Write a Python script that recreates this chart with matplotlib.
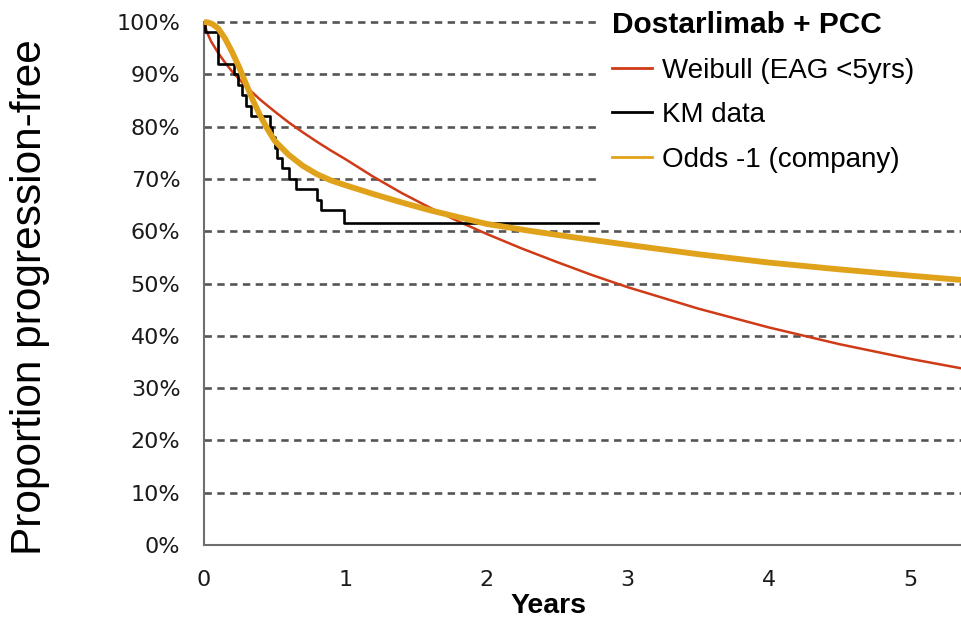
import matplotlib
matplotlib.use("Agg")
import matplotlib.pyplot as plt
from matplotlib.lines import Line2D
from matplotlib.patches import Rectangle

# Weibull (EAG <5yrs) curve
weibull_t = [0.0, 0.02, 0.05, 0.1, 0.15, 0.2, 0.3, 0.4, 0.5, 0.6, 0.7, 0.8, 0.9,
             1.0, 1.2, 1.4, 1.6, 1.8, 2.0, 2.25, 2.5, 2.75, 3.0, 3.5, 4.0, 4.5,
             5.0, 5.4]
weibull_s = [1.0, 0.981, 0.963, 0.941, 0.922, 0.905, 0.876, 0.851, 0.829, 0.808,
             0.789, 0.771, 0.754, 0.738, 0.704, 0.673, 0.645, 0.619, 0.595, 0.567,
             0.541, 0.516, 0.493, 0.452, 0.416, 0.384, 0.356, 0.336]

# KM data (step function)
km_t = [0.0, 0.01, 0.10, 0.215, 0.24, 0.27, 0.30, 0.335, 0.47, 0.485, 0.50, 0.515,
        0.555, 0.60, 0.65, 0.80, 0.83, 0.99, 2.79]
km_s = [1.0, 0.98, 0.92, 0.90, 0.88, 0.86, 0.84, 0.82, 0.80, 0.78, 0.76, 0.74,
        0.72, 0.70, 0.68, 0.66, 0.64, 0.615, 0.615]

# Odds -1 (company) curve
odds_t = [0.0, 0.03, 0.06, 0.1, 0.15, 0.2, 0.25, 0.3, 0.35, 0.4, 0.45, 0.5, 0.6,
          0.7, 0.8, 0.9, 1.0, 1.2, 1.4, 1.6, 1.8, 2.0, 2.3, 2.6, 3.0, 3.5, 4.0,
          4.5, 5.0, 5.4]
odds_s = [1.0, 0.999, 0.996, 0.988, 0.968, 0.942, 0.913, 0.880, 0.848, 0.820,
          0.795, 0.773, 0.746, 0.725, 0.709, 0.697, 0.688, 0.671, 0.655, 0.640,
          0.627, 0.614, 0.601, 0.589, 0.574, 0.556, 0.540, 0.527, 0.515, 0.506]

series_labels = ["Weibull (EAG <5yrs)", "KM data", "Odds -1 (company)"]
legend_title = "Dostarlimab + PCC"
x_ticks = [0, 1, 2, 3, 4, 5]
y_ticks = [i / 10 for i in range(11)]

RED = "#cf3b17"
ORANGE = "#e0a11b"
GRID = "#555555"

fig = plt.figure(figsize=(9.61, 6.21), dpi=100)
ax = fig.add_axes([204 / 961, 76 / 621, 757 / 961, 523 / 621])

for v in y_ticks[1:]:
    ax.axhline(v, color=GRID, lw=1.9, ls=(0, (2.8, 2.05)), zorder=1, clip_on=False)

# white legend background hides the upper grid lines on the right
ax.add_patch(Rectangle((597 / 961, 1 - 195 / 621), 1, 1, transform=fig.transFigure,
                       facecolor="white", edgecolor="none", zorder=2, clip_on=False))

ax.plot(weibull_t, weibull_s, color=RED, lw=1.8, zorder=3)
ax.step(km_t, km_s, where="post", color="black", lw=1.9, zorder=4)
ax.plot(odds_t, odds_s, color=ORANGE, lw=4.2, zorder=5, solid_capstyle="butt",
        clip_on=False)

ax.set_xlim(0, 757 / 141.2)
ax.set_ylim(0, 1)
ax.set_xticks(x_ticks)
ax.set_xticklabels([str(t) for t in x_ticks])
ax.set_yticks(y_ticks)
ax.set_yticklabels([f"{round(v * 100)}%" for v in y_ticks])
ax.tick_params(length=0, labelsize=16, labelcolor="#1a1a1a")
ax.tick_params(axis="y", pad=17)
ax.tick_params(axis="x", pad=18)

for side in ("top", "right"):
    ax.spines[side].set_visible(False)
for side in ("left", "bottom"):
    ax.spines[side].set_color("#6e6e6e")
    ax.spines[side].set_linewidth(1.5)

fig.text(30 / 961, 1 - 297 / 621, "Proportion progression-free", rotation=90,
         ha="center", va="center", fontsize=30.5, family="Liberation Sans")
fig.text(548 / 961, 1 - 606 / 621, "Years", ha="center", va="center",
         fontsize=20.5, fontweight="bold", family="Liberation Sans")

handles = [Line2D([], [], color=RED, lw=2),
           Line2D([], [], color="black", lw=2),
           Line2D([], [], color=ORANGE, lw=2)]
fig.legend(handles, series_labels, title=legend_title, loc="upper left",
           bbox_to_anchor=(612 / 961, 1 - 11 / 621), frameon=False,
           prop={"family": "Liberation Sans", "size": 20},
           title_fontproperties={"family": "Liberation Sans", "size": 21.5,
                                 "weight": "bold"},
           handlelength=1.45, handletextpad=0.35, labelspacing=0.67,
           borderpad=0, borderaxespad=0, alignment="left")

fig.savefig("out.png", dpi=100)
plt.close(fig)
